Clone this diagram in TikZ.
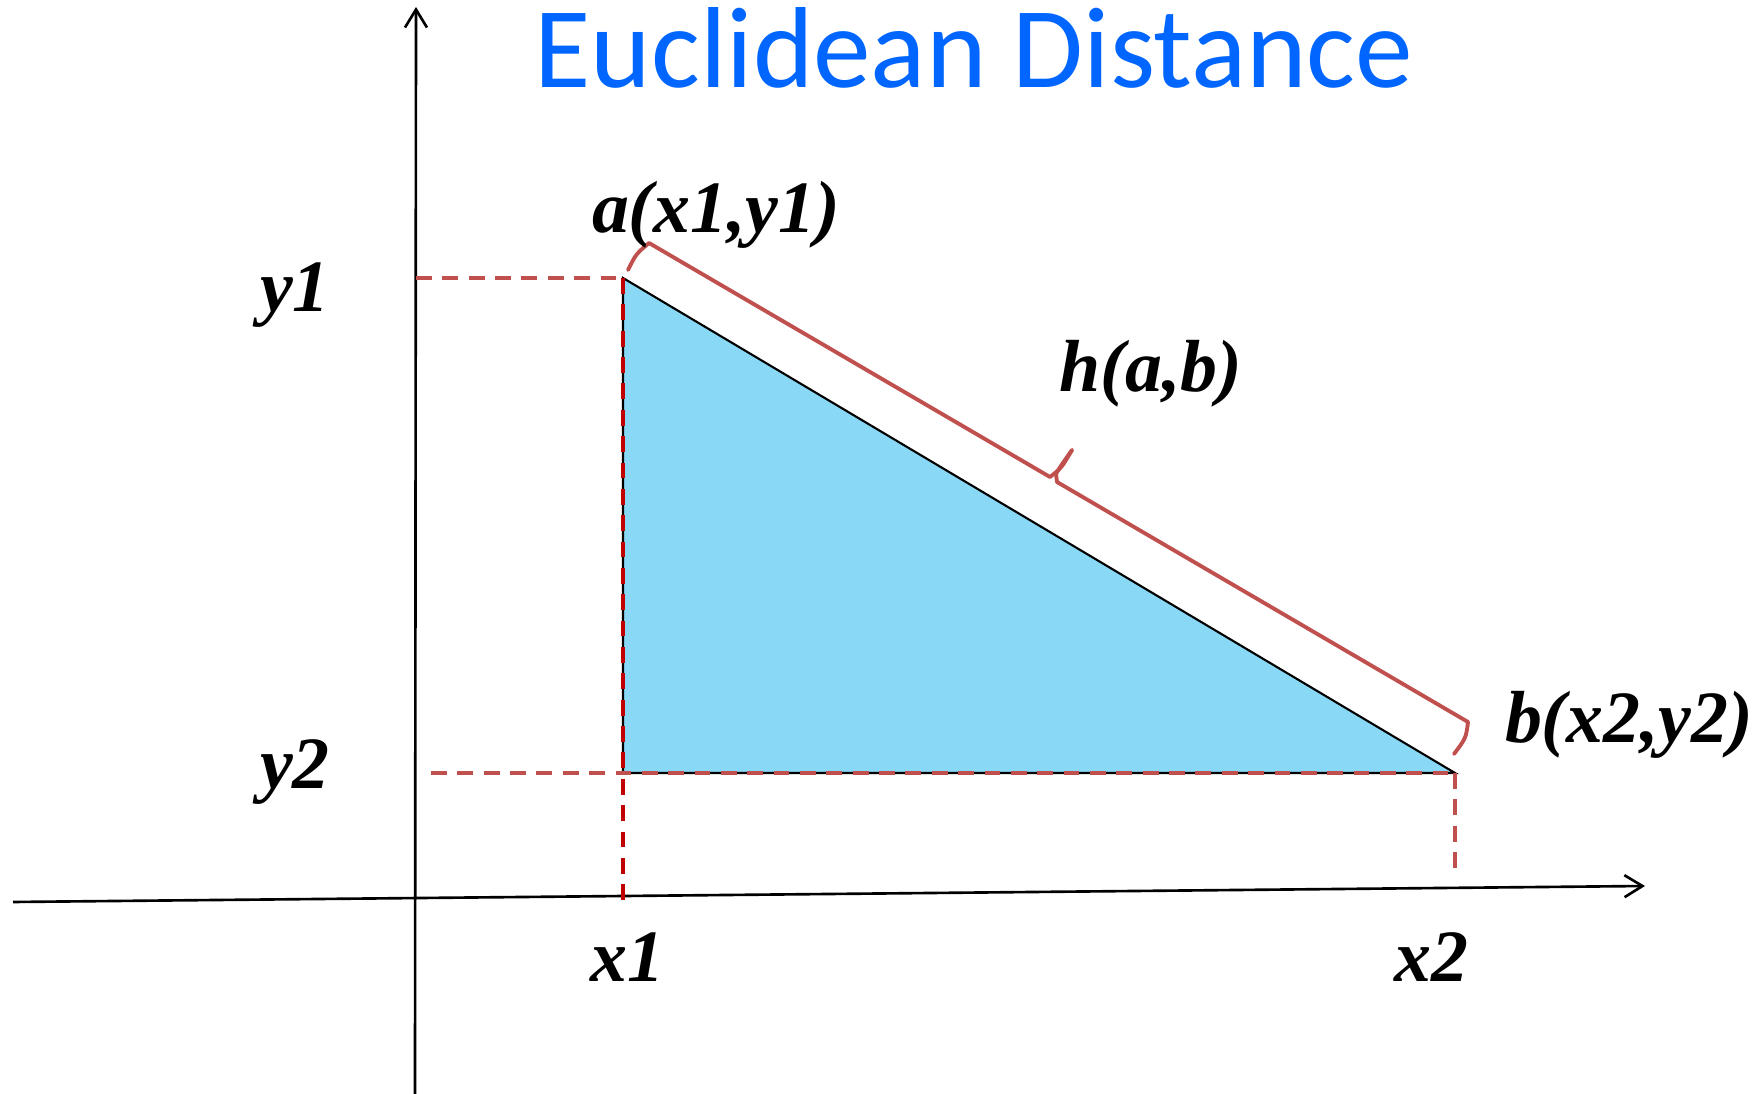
\documentclass[tikz,border=0pt]{standalone}
\usepackage{fontspec}
\usepackage{tikz}
\usetikzlibrary{arrows.meta,positioning,calc}
\newfontfamily\EDtitlefont{Carlito}
\newfontfamily\EDlabelfont{Liberation Serif}
\definecolor{EDBlue}{HTML}{0066FF}
\definecolor{EDFill}{HTML}{88D8F6}
\definecolor{EDRed}{HTML}{C0504D}
\definecolor{EDRedDark}{HTML}{C00000}
\definecolor{EDInk}{HTML}{000000}
\tikzset{
  axis/.style={-{Straight Barb[length=1.8mm,width=2.2mm]},EDInk,line width=0.75pt},
  hyp/.style={draw=EDInk,line width=0.6pt,fill=EDFill},
  guide/.style={EDRed,line width=1.0pt,dash pattern=on 4.5pt off 3pt},
  guidedark/.style={guide,EDRedDark},
  bracemark/.style={EDRed,line width=1.1pt,line join=round,line cap=round},
  coordlabel/.style={text=EDInk,font=\EDlabelfont\fontsize{21}{25}\selectfont\bfseries\itshape,
                     anchor=base,inner sep=0pt},
  titlelabel/.style={text=EDBlue,font=\EDtitlefont\fontsize{32.8}{40}\selectfont,
                     anchor=base,inner sep=0pt},
}
\begin{document}
\begin{tikzpicture}[x=1cm,y=1cm]
    \useasboundingbox (0,0) rectangle (17.63,10.94);
    % points of the triangle
    \coordinate (A) at (6.23,8.16);
    \coordinate (B) at (14.55,3.21);
    \coordinate (C) at (6.23,3.21);
    % axis ends
    \coordinate (yaxisfoot) at (4.15,0);
    \coordinate (yaxistip) at (4.16,10.87);
    \coordinate (xaxisfoot) at (0.13,1.92);
    \coordinate (xaxistip) at (16.45,2.08);
    % guide ends
    \coordinate (yoneend) at (4.16,8.16);
    \coordinate (ytwoend) at (4.31,3.21);
    \coordinate (xoneend) at (6.23,1.91);
    \coordinate (xtwoend) at (14.55,2.19);
    % brace points
    \coordinate (bracestart) at (6.28,8.24);
    \coordinate (bracecornerA) at (6.49,8.51);
    \coordinate (bracemidA) at (10.50,6.17);
    \coordinate (bracetip) at (10.72,6.44);
    \coordinate (bracemidB) at (10.57,6.12);
    \coordinate (bracecornerB) at (14.68,3.72);
    \coordinate (braceend) at (14.54,3.40);

    \draw[hyp] (A) -- (B) -- (C) -- cycle;
    \draw[axis] (xaxisfoot) -- (xaxistip);
    \draw[axis] (yaxisfoot) -- (yaxistip);

    \draw[guide] (yoneend) -- (A);
    \draw[guide] (ytwoend) -- (B);
    \draw[guidedark] (A) -- (xoneend);
    \draw[guide] (B) -- (xtwoend);

    \draw[bracemark] (bracestart) .. controls (6.36,8.40) .. (bracecornerA)
      -- (bracemidA) -- (10.55,6.21) .. controls (10.62,6.27) .. (bracetip);
    \draw[bracemark] (bracetip) .. controls (10.60,6.27) .. (10.56,6.20)
      -- (bracemidB) -- (bracecornerB) .. controls (14.66,3.56) .. (braceend);

    \node[titlelabel] (title) at (9.74,10.06) {Euclidean Distance};
    \node[coordlabel] (alabel) at (7.16,8.61) {a(x1,y1)};
    \node[coordlabel] (hlabel) at (11.51,7.02) {h(a,b)};
    \node[coordlabel] (blabel) at (16.29,3.51) {b(x2,y2)};
    \node[coordlabel] (yonelabel) at (2.95,7.82) {y1};
    \node[coordlabel] (ytwolabel) at (2.95,3.05) {y2};
    \node[coordlabel] (xonelabel) at (6.27,1.12) {x1};
    \node[coordlabel] (xtwolabel) at (14.31,1.12) {x2};
  \end{tikzpicture}
\end{document}
